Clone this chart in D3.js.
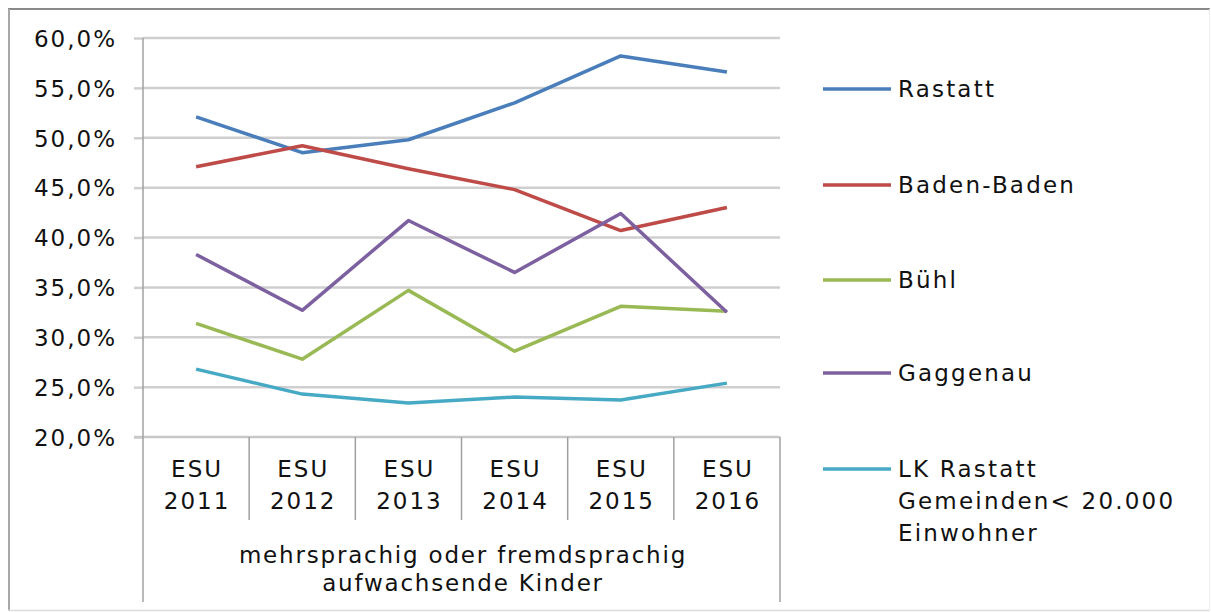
<!DOCTYPE html>
<html><head><meta charset="utf-8">
<script src="https://cdn.jsdelivr.net/npm/d3@7"></script>
<style>
body{margin:0;background:#fff;}
text{font-family:"DejaVu Sans",sans-serif;fill:#111;}
</style></head>
<body><svg id="c" width="1211" height="612"></svg>
<script>
const categories = ["ESU 2011","ESU 2012","ESU 2013","ESU 2014","ESU 2015","ESU 2016"];
const seriesNames = ["Rastatt","Baden-Baden","Bühl","Gaggenau","LK Rastatt Gemeinden< 20.000 Einwohner"];
const rastatt    = [0.521,0.485,0.498,0.535,0.582,0.566];
const badenBaden = [0.471,0.492,0.469,0.448,0.407,0.430];
const buehl      = [0.314,0.278,0.347,0.286,0.331,0.326];
const gaggenau   = [0.383,0.327,0.417,0.365,0.424,0.325];
const lkRastatt  = [0.268,0.243,0.234,0.240,0.237,0.254];
const yTicks = [0.20,0.25,0.30,0.35,0.40,0.45,0.50,0.55,0.60];
const colors = ["#4a7ebb","#be4b48","#98b954","#7d60a0","#46aac5"];
const groupLabel = ["mehrsprachig oder fremdsprachig","aufwachsende Kinder"];

const svg = d3.select("#c");
// outer frame
svg.append("line").attr("x1",8).attr("x2",1210).attr("y1",9).attr("y2",9).attr("stroke","#8a8a8a").attr("stroke-width",2);
svg.append("line").attr("x1",9).attr("x2",9).attr("y1",9).attr("y2",611).attr("stroke","#a8a8a8").attr("stroke-width",2);
svg.append("line").attr("x1",8).attr("x2",1210).attr("y1",610.5).attr("y2",610.5).attr("stroke","#dcdcdc").attr("stroke-width",1.5);
svg.append("line").attr("x1",1209.5).attr("x2",1209.5).attr("y1",9).attr("y2",611).attr("stroke","#eeeeee").attr("stroke-width",1);

const x = d3.scaleBand().domain(categories).range([143,780]);
const y = d3.scaleLinear().domain([0.2,0.6]).range([437,38]);

// gridlines + y labels
const yAxis = d3.axisLeft(y).tickValues(yTicks).tickSize(9)
  .tickFormat(d => d3.format(".1%")(d).replace(".",","));
const ga = svg.append("g").attr("transform","translate(143,0)").call(yAxis);
ga.select(".domain").remove();
ga.selectAll(".tick line").attr("stroke","#cfcfcf").attr("stroke-width",2.5);
ga.selectAll(".tick text").attr("x",-26).attr("dy","0.36em").style("font-size","23px").style("letter-spacing","2px").attr("fill","#111").style("font-family","DejaVu Sans");
svg.append("g").selectAll("line").data(yTicks.slice(1)).join("line")
  .attr("x1",143).attr("x2",780).attr("y1",d=>y(d)).attr("y2",d=>y(d))
  .attr("stroke","#cfcfcf").attr("stroke-width",2.5);

// axes frame
svg.append("line").attr("x1",134).attr("x2",780).attr("y1",y(0.2)).attr("y2",y(0.2)).attr("stroke","#c8c8c8").attr("stroke-width",2.5);
svg.append("line").attr("x1",143).attr("x2",143).attr("y1",38).attr("y2",602).attr("stroke","#a0a0a0").attr("stroke-width",1.5);
svg.append("line").attr("x1",780).attr("x2",780).attr("y1",437).attr("y2",602).attr("stroke","#a0a0a0").attr("stroke-width",1.5);
svg.append("g").selectAll("line").data(categories.slice(1)).join("line")
  .attr("x1",d=>x(d)).attr("x2",d=>x(d)).attr("y1",437).attr("y2",520)
  .attr("stroke","#a0a0a0").attr("stroke-width",1.5);

// category labels
const cl = svg.append("g").selectAll("text").data(categories).join("text")
  .attr("text-anchor","middle").style("font-size","23px").style("letter-spacing","2px");
cl.append("tspan").attr("x",d=>x(d)+x.bandwidth()/2+1).attr("y",477).text(d=>d.split(" ")[0]);
cl.append("tspan").attr("x",d=>x(d)+x.bandwidth()/2+1).attr("y",509).text(d=>d.split(" ")[1]);

svg.append("g").selectAll("text").data(groupLabel).join("text")
  .attr("x",463).attr("y",(d,i)=>563+i*28).attr("text-anchor","middle")
  .style("font-size","23px").style("letter-spacing","1.8px").text(d=>d);

// lines
const allSeries = [rastatt,badenBaden,buehl,gaggenau,lkRastatt];
const line = d3.line().x((d,i)=>x(categories[i])+x.bandwidth()/2).y(d=>y(d));
svg.append("g").selectAll("path").data(allSeries).join("path")
  .attr("d",line).attr("fill","none").attr("stroke",(d,i)=>colors[i])
  .attr("stroke-width",3.5).attr("stroke-linejoin","round");

// legend
const legY = [89,185,280,373,469];
const lg = svg.append("g").selectAll("g").data(seriesNames).join("g")
  .attr("transform",(d,i)=>`translate(823,${legY[i]})`);
lg.append("line").attr("x1",0).attr("x2",68).attr("stroke",(d,i)=>colors[i]).attr("stroke-width",3.5);
const lt = lg.append("text").attr("x",75).style("font-size","23px").style("letter-spacing","2.2px");
const legLines = [["Rastatt"],["Baden-Baden"],["Bühl"],["Gaggenau"],["LK Rastatt","Gemeinden< 20.000","Einwohner"]];
lt.each(function(d,i){
  d3.select(this).selectAll("tspan").data(legLines[i]).join("tspan")
    .attr("x",75).attr("y",(t,j)=>8+j*32).text(t=>t);
});
</script></body></html>
